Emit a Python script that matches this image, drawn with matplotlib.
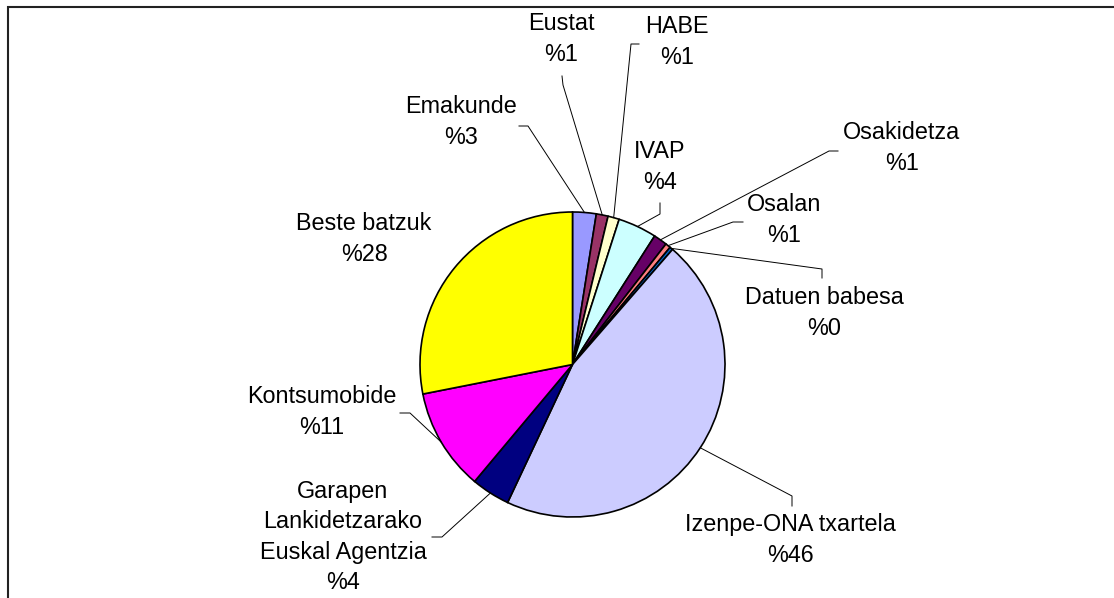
import numpy as np
import matplotlib
matplotlib.use("Agg")
import matplotlib.pyplot as plt
from matplotlib.patches import Rectangle

W, H = 1114, 598

names = ["Emakunde", "Eustat", "HABE", "IVAP", "Osakidetza", "Osalan",
         "Datuen babesa", "Izenpe-ONA txartela",
         "Garapen\nLankidetzarako\nEuskal Agentzia", "Kontsumobide",
         "Beste batzuk"]
shares = [2.5, 1.25, 1.2, 4.1, 1.45, 0.55, 0.34, 45.6, 4.1, 10.8, 28.1]
pct_labels = ["%3", "%1", "%1", "%4", "%1", "%1", "%0", "%46", "%4",
              "%11", "%28"]
colors = ["#9999FF", "#993366", "#FFFFCC", "#CCFFFF", "#660066", "#FF8080",
          "#0066CC", "#CCCCFF", "#000080", "#FF00FF", "#FFFF00"]

# label centres and leader-line bends, in pixels from top-left
label_pos = [(461, 122), (561, 39), (677, 42), (660, 167), (902, 148),
             (784, 220), (824, 313), (790, 540), (343, 537), (322, 412),
             (364, 239)]
leader_pts = [[(528, 126), (519, 126)],
              [(563, 85), (562, 76)],
              [(631, 44), (639, 44)],
              [(660, 214), (660, 203)],
              [(829, 151), (838, 151)],
              [(733, 222), (743, 222)],
              [(822, 269), (822, 278)],
              [(792, 496), (792, 506)],
              [(442, 537), (432, 537)],
              [(410, 413), (400, 413)],
              None]

plt.rcParams['font.family'] = ['Liberation Sans', 'DejaVu Sans']


def py(y):
    return H - y


def main():
    fig = plt.figure(figsize=(W / 100, H / 100), dpi=100)
    ax = fig.add_axes([0, 0, 1, 1])
    ax.set_xlim(0, W)
    ax.set_ylim(0, H)
    ax.set_aspect('equal')
    ax.axis('off')

    cx, cy, r = 572.5, py(364.5), 152.5
    wedges, _ = ax.pie(shares, colors=colors, startangle=90,
                       counterclock=False, center=(cx, cy), radius=r,
                       wedgeprops=dict(edgecolor='black', linewidth=1.2))
    ax.set_xlim(0, W)
    ax.set_ylim(0, H)

    for w, name, pct, pos, pts in zip(wedges, names, pct_labels,
                                      label_pos, leader_pts):
        ax.text(pos[0], py(pos[1]), name + "\n" + pct, ha='center',
                va='center', fontsize=16.8, linespacing=1.4)
        if pts is None:
            continue
        mid = np.deg2rad((w.theta1 + w.theta2) / 2)
        xs = [cx + r * np.cos(mid)] + [p[0] for p in pts]
        ys = [cy + r * np.sin(mid)] + [py(p[1]) for p in pts]
        ax.plot(xs, ys, color='black', linewidth=0.7)

    ax.add_patch(Rectangle((8, -20), W + 40, py(7) + 20, fill=False,
                           edgecolor='#222222', linewidth=1.5))
    fig.savefig("out.png", dpi=100)


if __name__ == "__main__":
    main()
